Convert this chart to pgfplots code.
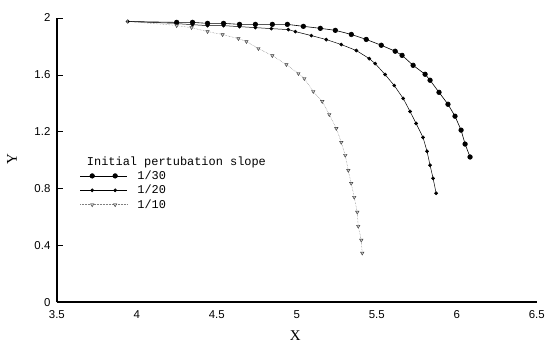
\documentclass[border=0pt]{standalone}
\usepackage{fontspec}
\setmainfont{Liberation Serif}
\setsansfont{Liberation Sans}
\setmonofont{Liberation Mono}
\usepackage{pgfplots}
\pgfplotsset{compat=1.18}
\begin{document}
\begin{tikzpicture}
\begin{axis}[
  scale only axis, width=481bp, height=285bp,
  xmin=3.5, xmax=6.5, ymin=0, ymax=2,
  axis lines*=left,
  axis line style={line width=1.6bp, black},
  xtick={3.5,4,4.5,5,5.5,6,6.5},
  ytick={0,0.4,0.8,1.2,1.6,2},
  x tick style={draw=none},
  y tick style={black, line width=0.5bp},
  tick align=inside,
  major tick length=6bp,
  /pgf/number format/assume math mode=true,
  tick label style={font=\sffamily\fontsize{11.5}{12}\selectfont},
  xticklabel style={yshift=-5bp},
  yticklabel style={xshift=-3bp},
  xlabel={X}, ylabel={Y},
  label style={font=\fontsize{15}{16}\selectfont},
  xlabel style={at={(axis description cs:0.497,-0.116)}, anchor=center},
  ylabel style={at={(axis description cs:-0.0936,0.502)}, anchor=center},
  clip=false,
  legend style={draw=none, fill=none, at={(axis cs:3.643,0.94)}, anchor=north west,
    font=\ttfamily\fontsize{12}{12}\selectfont, row sep=0.3bp, inner sep=0pt,
    cells={anchor=west}},
  legend image code/.code={\draw[mark indices={2,4},#1] plot coordinates {(0bp,0bp) (12bp,0bp) (23.5bp,0bp) (35bp,0bp) (47bp,0bp)};},
]
% connecting segments from the common starting point
\addplot[black, line width=0.6bp, forget plot] coordinates {(3.943,1.975) (4.249,1.969)};
\addplot[black, line width=0.5bp, forget plot] coordinates {(3.943,1.975) (4.249,1.962)};
\addplot[gray, densely dotted, line width=0.5bp, forget plot] coordinates {(3.943,1.975) (4.249,1.948)};
% 1/30
\addplot[black, line width=0.6bp, mark=*, mark size=2.3bp, mark options={solid, fill=black}] coordinates {
(4.249,1.969) (4.348,1.969) (4.442,1.962) (4.542,1.962) (4.642,1.955) (4.741,1.955)
(4.847,1.955) (4.941,1.955) (5.041,1.941) (5.147,1.927) (5.241,1.913) (5.341,1.884)
(5.434,1.849) (5.528,1.808) (5.615,1.766) (5.658,1.737) (5.727,1.667) (5.802,1.604)
(5.833,1.562) (5.889,1.477) (5.945,1.393) (5.989,1.309) (6.027,1.211) (6.052,1.113)
(6.083,1.022)};
\addlegendentry{\hspace{8bp}1/30}
% 1/20
\addplot[black, line width=0.5bp, mark=*, mark size=1.6bp, mark options={solid, fill=black}] coordinates {
(4.249,1.960) (4.348,1.953) (4.442,1.946) (4.542,1.946) (4.642,1.939) (4.741,1.932)
(4.841,1.925) (4.947,1.918) (4.991,1.904) (5.091,1.876) (5.184,1.848) (5.278,1.813)
(5.372,1.771) (5.453,1.714) (5.490,1.679) (5.552,1.602) (5.609,1.525) (5.665,1.434)
(5.708,1.342) (5.746,1.258) (5.789,1.160) (5.814,1.062) (5.833,0.964) (5.852,0.872)
(5.871,0.767)};
\addlegendentry{\hspace{8bp}1/20}
% 1/10
\addplot[gray, densely dotted, line width=0.5bp, mark=triangle*, mark size=2bp,
  mark options={solid, rotate=180, fill=gray!40, draw=black!80, line width=0.4bp}] coordinates {
(4.249,1.946) (4.342,1.932) (4.442,1.904) (4.536,1.883) (4.635,1.855) (4.685,1.834)
(4.760,1.785) (4.847,1.735) (4.935,1.672) (5.010,1.609) (5.047,1.574) (5.103,1.483)
(5.159,1.413) (5.203,1.321) (5.247,1.223) (5.278,1.125) (5.303,1.034) (5.322,0.928)
(5.340,0.837) (5.359,0.739) (5.378,0.634) (5.384,0.535) (5.403,0.437) (5.409,0.346)};
\addlegendentry{\hspace{8bp}1/10}
% open starting point
\addplot[only marks, mark=o, mark size=1.8bp, black, line width=0.6bp, forget plot] coordinates {(3.943,1.975)};
\node[anchor=west, font=\ttfamily\fontsize{12}{12}\selectfont, inner sep=0pt] at (axis cs:3.687,0.985) {Initial pertubation slope};
\path (rel axis cs:0,0) ++(-57bp,-42bp) rectangle ++(548bp,345bp);
\end{axis}
\end{tikzpicture}
\end{document}
